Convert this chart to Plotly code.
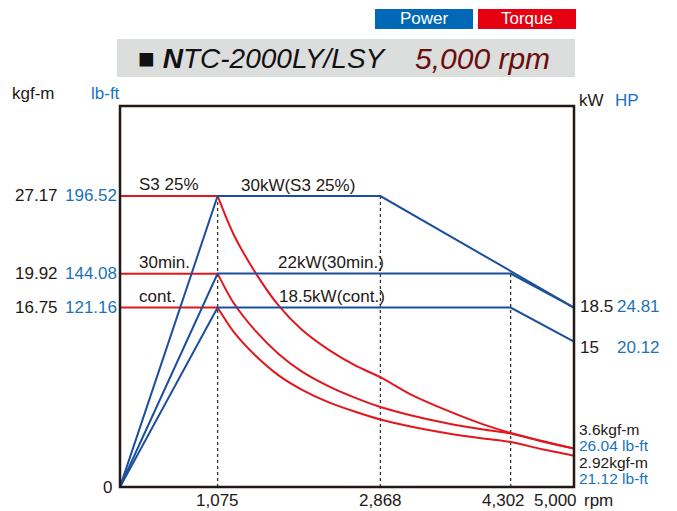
import plotly.graph_objects as go

# ---------------- data ----------------
power_names = ["S3 25%", "30min.", "cont."]
power_rpm = [[0, 1075, 2868, 5000], [0, 1075, 4302, 5000], [0, 1075, 4302, 5000]]
power_kw = [[0, 30, 30, 18.5], [0, 22, 22, 18.5], [0, 18.5, 18.5, 15]]

flat_rpm = [0, 1075]
torque_rpm = [1075, 1250, 1500, 1750, 2000, 2300, 2600, 2868, 3200, 3600, 4000, 4302, 4650, 5000]
torque_s3 = [27.17, 23.6, 19.9, 16.9, 14.7, 12.8, 11.3, 10.25, 8.65, 7.15, 5.85, 5.05, 4.3, 3.6]
torque_30 = [19.92, 17.2, 14.5, 12.4, 10.8, 9.4, 8.3, 7.47, 6.7, 5.95, 5.36, 4.99, 4.25, 3.6]
torque_ct = [16.75, 14.5, 12.2, 10.4, 9.1, 7.9, 7.0, 6.3, 5.65, 5.02, 4.52, 4.2, 3.52, 2.92]

torque_ticks_kgf = [27.17, 19.92, 16.75]
torque_ticks_lbft = ["196.52", "144.08", "121.16"]
torque_tick_names = ["S3 25%", "30min.", "cont."]
power_labels = ["30kW(S3 25%)", "22kW(30min.)", "18.5kW(cont.)"]
power_label_rpm = [1322, 1730, 1740]
rpm_ticks = [1075, 2868, 4302, 5000]
rpm_tick_text = ["1,075", "2,868", "4,302", "5,000"]
dotted_rpm = [1075, 2868, 4302]
dotted_kw = [30, 30, 22]
end_kw = [18.5, 15]
end_hp = ["24.81", "20.12"]
end_torque = ["3.6kgf-m", "26.04 lb-ft", "2.92kgf-m", "21.12 lb-ft"]

# ---------------- style ----------------
W, H = 677, 511
L, R, T, B = 120, 103, 106, 24
PW, PH = W - L - R, H - T - B
BLUE = "#1b4f9c"
RED = "#e3161e"
LBLUE = "#1a74bb"
BLACK = "#231815"
FONT = "Liberation Sans, Arial, sans-serif"
FS = 17

def px(x):
    return (x - L) / PW

def py(y):
    return (H - B - y) / PH

fig = go.Figure()

for rpm, kw in zip(power_rpm, power_kw):
    fig.add_trace(go.Scatter(x=rpm, y=kw, yaxis="y2", mode="lines",
                             line=dict(color=BLUE, width=2), showlegend=False,
                             hoverinfo="skip"))
for tq in [torque_s3, torque_30, torque_ct]:
    fig.add_trace(go.Scatter(x=flat_rpm, y=[tq[0], tq[0]], yaxis="y", mode="lines",
                             line=dict(color=RED, width=2), showlegend=False,
                             hoverinfo="skip"))
    fig.add_trace(go.Scatter(x=torque_rpm, y=tq, yaxis="y", mode="lines",
                             line=dict(color=RED, width=2, shape="spline", smoothing=0.8),
                             showlegend=False, hoverinfo="skip"))

shapes = []
for r, k in zip(dotted_rpm, dotted_kw):
    shapes.append(dict(type="line", xref="x", yref="y2", x0=r, x1=r, y0=0, y1=k,
                       line=dict(color="#333333", width=1.3, dash="dot"), layer="below"))
# frame
shapes.append(dict(type="rect", xref="paper", yref="paper", x0=0, x1=1, y0=0, y1=1,
                   line=dict(color=BLACK, width=2.5)))
# title box
shapes.append(dict(type="rect", xref="paper", yref="paper", x0=px(117), x1=px(575),
                   y0=py(77), y1=py(39), fillcolor="#dcdddd", line=dict(width=0)))
# legend boxes
shapes.append(dict(type="rect", xref="paper", yref="paper", x0=px(375), x1=px(473),
                   y0=py(29), y1=py(9), fillcolor="#0068b7", line=dict(width=0)))
shapes.append(dict(type="rect", xref="paper", yref="paper", x0=px(478), x1=px(576),
                   y0=py(29), y1=py(9), fillcolor="#e60012", line=dict(width=0)))

ann = []
def A(text, x, y, xref="paper", yref="paper", xanchor="left", yanchor="middle",
      size=FS, color=BLACK, **kw):
    ann.append(dict(text=text, x=x, y=y, xref=xref, yref=yref, xanchor=xanchor,
                    yanchor=yanchor, showarrow=False, borderpad=0,
                    font=dict(family=FONT, size=size, color=color), **kw))

# legend text
A("Power", px(424), py(19), xanchor="center", color="white")
A("Torque", px(527), py(19), xanchor="center", color="white")
# title
A("<i>■ <b>N</b>TC-2000LY/LSY</i>", px(137), py(58), size=28, color="#111111")
A("<i>5,000 rpm</i>", px(414), py(58), size=30, color="#6b0d0d")

# axis unit labels
A("kgf-m", px(11), py(93))
A("lb-ft", px(90), py(93), color=LBLUE)
A("kW", px(578), py(100))
A("HP", px(614), py(100), color=LBLUE)

# left ticks
for v, lb, nm in zip(torque_ticks_kgf, torque_ticks_lbft, torque_tick_names):
    A(f"{v:.2f}", px(59), v, yref="y", xanchor="right")
    A(lb, px(118), v, yref="y", xanchor="right", color=LBLUE)
    A(nm, 198, v, xref="x", yref="y", yshift=11)
A("0", px(113), 0, yref="y", xanchor="right")

# power labels
for lbl, r, k in zip(power_labels, power_label_rpm, [pk[1] for pk in power_kw]):
    A(lbl, r, k, xref="x", yref="y2", yshift=11)

# right ticks
for k, hp, shift in zip(end_kw, end_hp, [1, -6]):
    A(f"{k:g}", px(579), k, yref="y2", yshift=shift)
    A(hp, px(616), k, yref="y2", color=LBLUE, yshift=shift)

for txt, yy, col in zip(end_torque, [429, 445, 462, 478], [BLACK, LBLUE, BLACK, LBLUE]):
    A(txt, px(578), py(yy), color=col, size=15.5)

# bottom ticks
for r, t, sh in zip(rpm_ticks, rpm_tick_text, [0, 0, -7, -19]):
    A(t, r, py(500), xref="x", xanchor="center", xshift=sh)
A("rpm", px(583), py(500))

fig.update_layout(
    width=W, height=H,
    margin=dict(l=L, r=R, t=T, b=B),
    paper_bgcolor="white", plot_bgcolor="white",
    xaxis=dict(range=[0, 5000], showgrid=False, zeroline=False, showticklabels=False,
               ticks="", showline=False, fixedrange=True),
    yaxis=dict(range=[0, 35.57], showgrid=False, zeroline=False, showticklabels=False,
               ticks="", showline=False),
    yaxis2=dict(range=[0, 39.28], overlaying="y", side="right", showgrid=False,
                zeroline=False, showticklabels=False, ticks="", showline=False),
    shapes=shapes, annotations=ann, showlegend=False,
)

fig.write_html("out.html", config={"displayModeBar": False},
               post_script="document.body.style.margin='0px';")
